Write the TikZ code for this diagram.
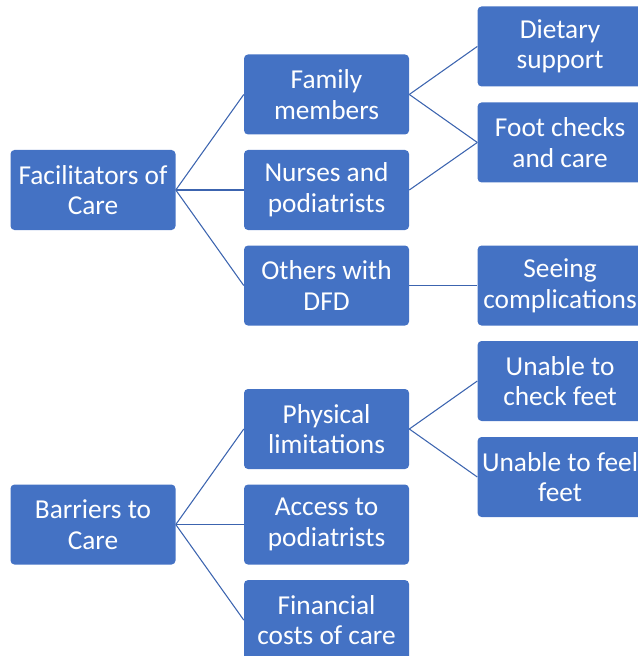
\documentclass[tikz,border=0pt]{standalone}
\usepackage{fontspec}
\setmainfont{Carlito}
\usetikzlibrary{positioning}

\definecolor{boxblue}{RGB}{68,114,196}
\definecolor{lineblue}{RGB}{60,100,175}

\tikzset{
    box/.style={rectangle, rounded corners=3pt, fill=boxblue, text=white,
        minimum width=123.75pt, minimum height=60pt, inner sep=0pt,
        align=center, font=\fontsize{20.5pt}{23pt}\selectfont},
    link/.style={draw=lineblue, line width=0.8pt}
}

\begin{document}
\begin{tikzpicture}
            \useasboundingbox (0,0) rectangle (477.75pt,-492pt);

            \node[box] (fac) at (69.75pt,-142.5pt) {Facilitators of\\Care};
            \node[box, right=51pt of fac] (nur) {Nurses and\\podiatrists};
            \node[box, above=11.25pt of nur] (fam) {Family\\members};
            \node[box, below=11.25pt of nur] (oth) {Others with\\DFD};
            \node[box, right=51pt of fam, yshift=36pt] (diet) {Dietary\\support};
            \node[box, right=51pt of fam, yshift=-36pt] (foot) {Foot checks\\and care};
            \node[box, right=51pt of oth] (see) {Seeing\\complications};

            \node[box, below=190.5pt of fac] (bar) {Barriers to\\Care};
            \node[box, right=51pt of bar] (acc) {Access to\\podiatrists};
            \node[box, above=11.25pt of acc] (phy) {Physical\\limitations};
            \node[box, below=11.25pt of acc] (fin) {Financial\\costs of care};
            \node[box, right=51pt of phy, yshift=36pt] (chk) {Unable to\\check feet};
            \node[box, right=51pt of phy, yshift=-36pt] (feel) {Unable to feel\\feet};

            \draw[link] (fac.east) -- (fam.west);
            \draw[link] (fac.east) -- (nur.west);
            \draw[link] (fac.east) -- (oth.west);
            \draw[link] (fam.east) -- (diet.west);
            \draw[link] (fam.east) -- (foot.west);
            \draw[link] (nur.east) -- (foot.west);
            \draw[link] (oth.east) -- (see.west);

            \draw[link] (bar.east) -- (phy.west);
            \draw[link] (bar.east) -- (acc.west);
            \draw[link] (bar.east) -- (fin.west);
            \draw[link] (phy.east) -- (chk.west);
            \draw[link] (phy.east) -- (feel.west);
\end{tikzpicture}
\end{document}
